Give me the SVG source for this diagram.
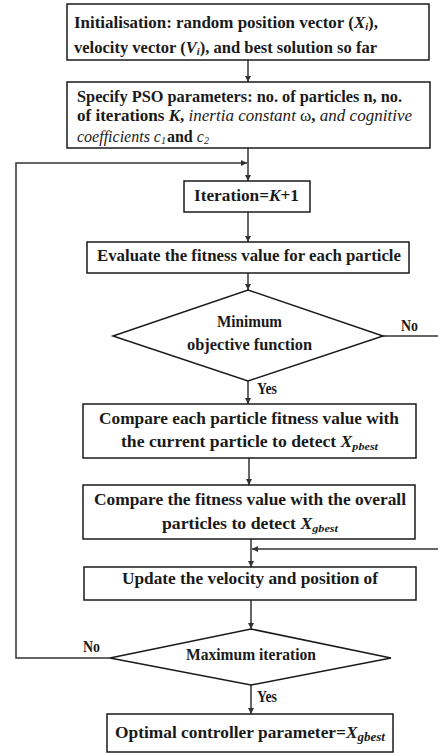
<svg xmlns="http://www.w3.org/2000/svg" width="438" height="753" viewBox="0 0 438 753">
<style>
.box{fill:#fff;stroke:#1a1a1a;stroke-width:1.5}
.t{font-family:'Liberation Serif','DejaVu Serif',serif;font-weight:bold;font-size:16px;fill:#1a1a1a}
.i{font-style:italic}
.n{font-weight:normal}
.c{fill:none;stroke:#333;stroke-width:1.5}
</style>
<defs>
<marker id="ah" viewBox="0 0 10 10" refX="10" refY="5" markerWidth="6" markerHeight="6" orient="auto" markerUnits="userSpaceOnUse">
<path d="M0,0 L10,5 L0,10 z" fill="#333"/>
</marker>
</defs>
<rect width="438" height="753" fill="#fff"/>
<g id="connectors">
<line class="c" x1="248" y1="60" x2="248" y2="82" marker-end="url(#ah)"/>
<line class="c" x1="248" y1="148" x2="248" y2="181" marker-end="url(#ah)"/>
<polyline class="c" points="110,658 16,658 16,163 247,163" marker-end="url(#ah)"/>
<line class="c" x1="248" y1="212" x2="248" y2="242" marker-end="url(#ah)"/>
<line class="c" x1="248" y1="273" x2="248" y2="290" marker-end="url(#ah)"/>
<line class="c" x1="383" y1="336" x2="440" y2="336"/>
<line class="c" x1="248" y1="381" x2="248" y2="404" marker-end="url(#ah)"/>
<line class="c" x1="249" y1="458" x2="249" y2="485" marker-end="url(#ah)"/>
<line class="c" x1="251" y1="539" x2="251" y2="567" marker-end="url(#ah)"/>
<line class="c" x1="440" y1="549" x2="252" y2="549" marker-end="url(#ah)"/>
<line class="c" x1="251" y1="600" x2="251" y2="629" marker-end="url(#ah)"/>
<line class="c" x1="251" y1="685" x2="251" y2="714" marker-end="url(#ah)"/>
<text class="t" x="401" y="331" textLength="17" lengthAdjust="spacingAndGlyphs" font-size="14">No</text>
<text class="t" x="257" y="394" textLength="20" lengthAdjust="spacingAndGlyphs" font-size="14">Yes</text>
<text class="t" x="83" y="652" textLength="17" lengthAdjust="spacingAndGlyphs" font-size="14">No</text>
<text class="t" x="257" y="702" textLength="20" lengthAdjust="spacingAndGlyphs" font-size="14">Yes</text>
</g>
<g id="init">
<rect class="box" x="67" y="4" width="362" height="56"/>
<text class="t" x="74" y="28" textLength="304" lengthAdjust="spacingAndGlyphs">Initialisation: random position vector (<tspan class="i">X<tspan font-size="10" dy="2">i</tspan></tspan><tspan dy="-2">),</tspan></text>
<text class="t" x="74" y="53" textLength="303" lengthAdjust="spacingAndGlyphs">velocity vector (<tspan class="i">V<tspan font-size="10" dy="2">i</tspan></tspan><tspan dy="-2">), and best solution so far</tspan></text>
</g>
<g id="params">
<rect class="box" x="67" y="82" width="363" height="66"/>
<text class="t" x="77" y="102" textLength="325" lengthAdjust="spacingAndGlyphs">Specify PSO parameters: no. of particles n, no.</text>
<text class="t" x="77" y="121" textLength="335" lengthAdjust="spacingAndGlyphs" font-size="15.5">of iterations <tspan class="i">K</tspan>, <tspan class="i n">inertia constant</tspan> <tspan class="n">ω</tspan>, <tspan class="i n">and cognitive</tspan></text>
<text class="t" x="77" y="142" font-size="15.5"><tspan class="i n">coefficients c</tspan><tspan class="i n" font-size="10" dy="1.5">1</tspan><tspan dx="1" dy="-1.5">and </tspan><tspan class="i n">c</tspan><tspan class="i n" font-size="10" dy="1.5">2</tspan></text>
</g>
<g id="iteration">
<rect class="box" x="184" y="181" width="126" height="31"/>
<text class="t" x="194" y="201" textLength="105" lengthAdjust="spacingAndGlyphs">Iteration=<tspan class="i">K</tspan>+1</text>
</g>
<g id="evaluate">
<rect class="box" x="87" y="242" width="322" height="31"/>
<text class="t" x="97" y="261" textLength="304" lengthAdjust="spacingAndGlyphs">Evaluate the fitness value for each particle</text>
</g>
<g id="minimum">
<polygon class="box" points="248,290 383,336 248,381 113,336"/>
<text class="t" x="217" y="327" textLength="65" lengthAdjust="spacingAndGlyphs">Minimum</text>
<text class="t" x="187" y="350" textLength="125" lengthAdjust="spacingAndGlyphs">objective function</text>
</g>
<g id="pbest">
<rect class="box" x="83" y="404" width="333" height="54"/>
<text class="t" x="99" y="424" textLength="300" lengthAdjust="spacingAndGlyphs">Compare each particle fitness value with</text>
<text class="t" x="121" y="447" textLength="257" lengthAdjust="spacingAndGlyphs">the current particle to detect <tspan class="i">X<tspan font-size="11" dy="3">pbest</tspan></tspan></text>
</g>
<g id="gbest">
<rect class="box" x="83" y="485" width="332" height="54"/>
<text class="t" x="94" y="505" textLength="312" lengthAdjust="spacingAndGlyphs">Compare the fitness value with the overall</text>
<text class="t" x="162" y="529" textLength="176" lengthAdjust="spacingAndGlyphs">particles to detect <tspan class="i">X<tspan font-size="11" dy="3">gbest</tspan></tspan></text>
</g>
<g id="update">
<rect class="box" x="84" y="567" width="332" height="33"/>
<text class="t" x="122" y="584" textLength="256" lengthAdjust="spacingAndGlyphs">Update the velocity and position of</text>
</g>
<g id="maximum">
<polygon class="box" points="251,629 391,658 251,685 110,658"/>
<text class="t" x="186" y="660" textLength="130" lengthAdjust="spacingAndGlyphs">Maximum iteration</text>
</g>
<g id="optimal">
<rect class="box" x="107" y="714" width="286" height="38"/>
<text class="t" x="115" y="738" textLength="270" lengthAdjust="spacingAndGlyphs" font-size="17">Optimal controller parameter=<tspan class="i">X<tspan font-size="12" dy="3">gbest</tspan></tspan></text>
</g>
</svg>
